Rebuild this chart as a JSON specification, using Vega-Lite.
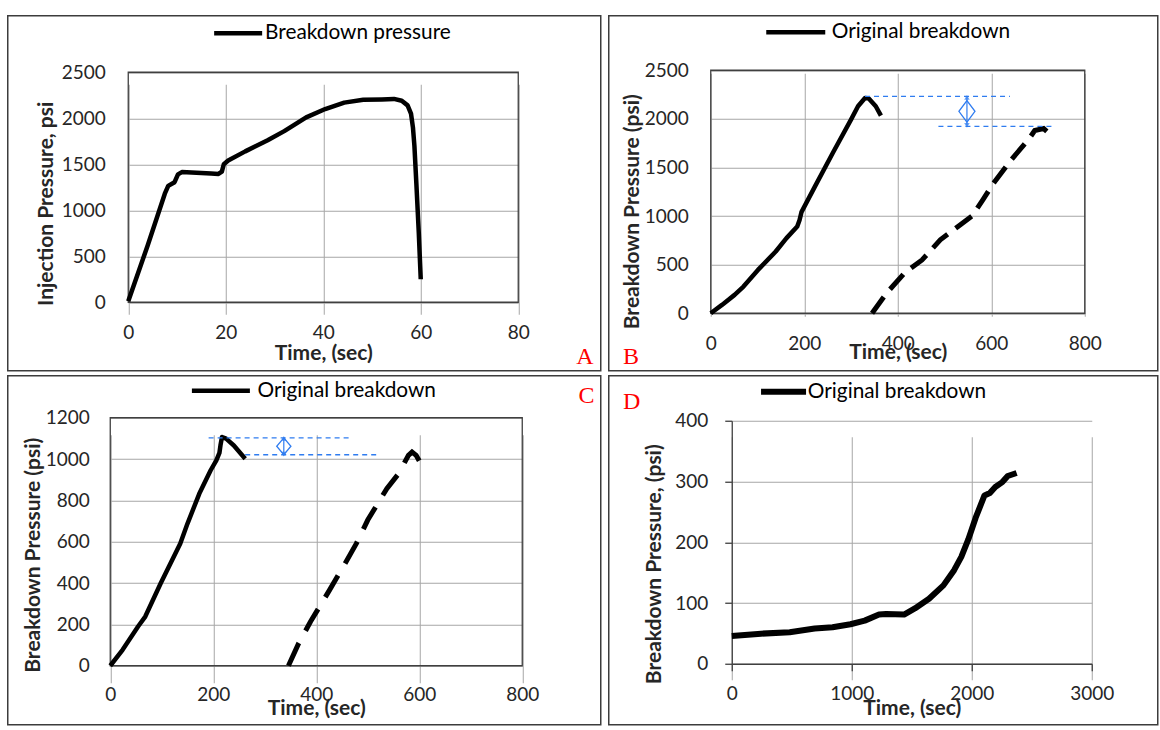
{
  "$schema": "https://vega.github.io/schema/vega-lite/v6.json",
  "background": "white",
  "padding": {"left": 6.75, "top": 14.75, "right": 0, "bottom": 0},
  "spacing": {"row": 3, "column": 6},
  "columns": 2,
  "datasets": {
    "one": [{}],
    "A": [
      {"t": 0, "p": 10}, {"t": 4, "p": 620}, {"t": 7.5, "p": 1180}, {"t": 8.2, "p": 1265}, {"t": 9.5, "p": 1305},
      {"t": 10.2, "p": 1390}, {"t": 11, "p": 1415}, {"t": 14, "p": 1408}, {"t": 17, "p": 1400}, {"t": 18.5, "p": 1395},
      {"t": 19.2, "p": 1420}, {"t": 19.6, "p": 1500}, {"t": 20.5, "p": 1540}, {"t": 24, "p": 1640}, {"t": 28.6, "p": 1760},
      {"t": 32, "p": 1860}, {"t": 36.5, "p": 2010}, {"t": 40.4, "p": 2100}, {"t": 44.3, "p": 2170}, {"t": 48.2, "p": 2200},
      {"t": 52, "p": 2205}, {"t": 54.5, "p": 2210}, {"t": 56.1, "p": 2190}, {"t": 57.3, "p": 2140}, {"t": 58, "p": 2050},
      {"t": 58.4, "p": 1900}, {"t": 58.7, "p": 1700}, {"t": 59.1, "p": 1290}, {"t": 59.6, "p": 750}, {"t": 60, "p": 250}
    ],
    "B_orig": [
      {"t": 0, "p": 0}, {"t": 24, "p": 86}, {"t": 51, "p": 189}, {"t": 70, "p": 275}, {"t": 101, "p": 446},
      {"t": 139, "p": 635}, {"t": 162, "p": 773}, {"t": 185, "p": 893}, {"t": 190, "p": 960}, {"t": 194, "p": 1040},
      {"t": 223, "p": 1305}, {"t": 261, "p": 1648}, {"t": 300, "p": 1992}, {"t": 315, "p": 2129}, {"t": 330, "p": 2215},
      {"t": 338, "p": 2210}, {"t": 353, "p": 2130}, {"t": 364, "p": 2033}
    ],
    "B_re": [
      {"t": 345, "p": 0}, {"t": 376, "p": 206}, {"t": 414, "p": 412}, {"t": 452, "p": 549}, {"t": 491, "p": 755},
      {"t": 529, "p": 893}, {"t": 559, "p": 1000}, {"t": 582, "p": 1167}, {"t": 605, "p": 1339}, {"t": 643, "p": 1580},
      {"t": 682, "p": 1803}, {"t": 693, "p": 1880}, {"t": 712, "p": 1900}, {"t": 731, "p": 1820}
    ],
    "B_lines": [
      {"t": 330, "t2": 640, "p": 2232},
      {"t": 487, "t2": 734, "p": 1923}
    ],
    "B_arrow": [{"t": 548, "p": 2222, "p2": 1932, "pm": 2077}],
    "C_orig": [
      {"t": 0, "p": 0}, {"t": 24, "p": 77}, {"t": 54, "p": 190}, {"t": 68, "p": 238}, {"t": 98, "p": 399},
      {"t": 136, "p": 592}, {"t": 150, "p": 688}, {"t": 173, "p": 833}, {"t": 195, "p": 946}, {"t": 206, "p": 994},
      {"t": 212, "p": 1030}, {"t": 214, "p": 1066}, {"t": 217, "p": 1107}, {"t": 225, "p": 1099}, {"t": 240, "p": 1066},
      {"t": 262, "p": 1002}
    ],
    "C_re": [
      {"t": 346, "p": 0}, {"t": 366, "p": 109}, {"t": 389, "p": 214}, {"t": 426, "p": 367}, {"t": 456, "p": 495},
      {"t": 478, "p": 592}, {"t": 500, "p": 705}, {"t": 537, "p": 857}, {"t": 560, "p": 930}, {"t": 579, "p": 1018},
      {"t": 586, "p": 1034}, {"t": 594, "p": 1018}, {"t": 603, "p": 978}
    ],
    "C_lines": [
      {"t": 191, "t2": 469, "p": 1103},
      {"t": 262, "t2": 521, "p": 1021}
    ],
    "C_arrow": [{"t": 337, "p": 1100, "p2": 1024, "pm": 1062}],
    "D": [
      {"t": 0, "p": 45.6}, {"t": 244, "p": 49.5}, {"t": 483, "p": 52}, {"t": 691, "p": 58}, {"t": 840, "p": 60},
      {"t": 989, "p": 65}, {"t": 1108, "p": 71}, {"t": 1227, "p": 81}, {"t": 1287, "p": 82}, {"t": 1436, "p": 81},
      {"t": 1526, "p": 91}, {"t": 1644, "p": 107}, {"t": 1764, "p": 129}, {"t": 1853, "p": 154}, {"t": 1913, "p": 176},
      {"t": 1972, "p": 205}, {"t": 2032, "p": 240}, {"t": 2106, "p": 277}, {"t": 2151, "p": 281}, {"t": 2196, "p": 291},
      {"t": 2255, "p": 299}, {"t": 2300, "p": 309}, {"t": 2374, "p": 314}
    ]
  },
  "concat": [
    {
      "width": 593, "height": 355,
      "title": {"text": "A", "orient": "bottom", "anchor": "end", "frame": "group", "align": "right", "baseline": "alphabetic", "offset": 0, "dx": -7.25, "dy": -7, "font": "Liberation Serif", "fontSize": 24, "fontWeight": "normal", "color": "#ff0000"},
      "layer": [
        {
          "data": {"name": "one"},
          "mark": {"type": "rect", "filled": false, "color": "#404040", "strokeWidth": 1.3},
          "encoding": {"x": {"datum": 0, "type": "quantitative"}, "x2": {"datum": 80}, "y": {"datum": 0, "type": "quantitative"}, "y2": {"datum": 2500}}
        },
        {
          "data": {"name": "A"},
          "mark": {"type": "line", "strokeWidth": 4.5, "strokeJoin": "round"},
          "encoding": {
            "x": {"field": "t", "type": "quantitative", "scale": {"domain": [0, 80], "range": [120.5, 510.5], "nice": false},
                  "axis": {"values": [0, 20, 40, 60, 80], "format": "d", "offset": -68.5, "title": "Time, (sec)", "labelPadding": 30, "labelBaseline": "middle", "titleX": 315.5, "titleY": 51, "titleBaseline": "middle", "titleAlign": "center"}},
            "y": {"field": "p", "type": "quantitative", "scale": {"domain": [0, 2500], "range": [286.5, 56.5], "nice": false},
                  "axis": {"values": [0, 500, 1000, 1500, 2000, 2500], "format": "d", "offset": -120.5, "title": "Injection Pressure, psi", "labelPadding": 23, "titleX": -82, "titleY": 187.5, "titleAngle": -90, "titleBaseline": "middle", "titleAlign": "center"}},
            "color": {"datum": "Breakdown pressure", "scale": {"range": ["black"]},
                      "legend": {"orient": "none", "legendX": 220, "legendY": 7, "title": null, "symbolType": "M-4,0H4", "symbolSize": 144, "symbolStrokeWidth": 4.5, "labelOffset": 16.5}}
          }
        }
      ]
    },
    {
      "width": 549, "height": 355,
      "title": {"text": "B", "orient": "bottom", "anchor": "start", "frame": "group", "align": "left", "baseline": "alphabetic", "offset": 0, "dx": 14.25, "dy": -7, "font": "Liberation Serif", "fontSize": 24, "fontWeight": "normal", "color": "#ff0000"},
      "layer": [
        {
          "data": {"name": "one"},
          "mark": {"type": "rect", "filled": false, "color": "#404040", "strokeWidth": 1.3},
          "encoding": {"x": {"datum": 0, "type": "quantitative"}, "x2": {"datum": 800}, "y": {"datum": 0, "type": "quantitative"}, "y2": {"datum": 2500}}
        },
        {
          "data": {"name": "B_orig"},
          "mark": {"type": "line", "strokeWidth": 4.5, "strokeJoin": "round"},
          "encoding": {
            "x": {"field": "t", "type": "quantitative", "scale": {"domain": [0, 800], "range": [102, 476], "nice": false},
                  "axis": {"values": [0, 200, 400, 600, 800], "format": "d", "offset": -57.5, "title": "Time, (sec)", "labelPadding": 30, "labelBaseline": "middle", "titleX": 289, "titleY": 39.5, "titleBaseline": "middle", "titleAlign": "center"}},
            "y": {"field": "p", "type": "quantitative", "scale": {"domain": [0, 2500], "range": [297.5, 54.5], "nice": false},
                  "axis": {"values": [0, 500, 1000, 1500, 2000, 2500], "format": "d", "offset": -102, "title": "Breakdown Pressure (psi)", "labelPadding": 22.5, "titleX": -78, "titleY": 195.5, "titleAngle": -90, "titleBaseline": "middle", "titleAlign": "center"}},
            "color": {"datum": "Original breakdown", "scale": {"range": ["black"]},
                      "legend": {"orient": "none", "legendX": 176.6, "legendY": 6, "title": null, "symbolType": "M-4,0H4", "symbolSize": 217.6, "symbolStrokeWidth": 4.5, "labelOffset": 25.6}}
          }
        },
        {
          "data": {"name": "B_re"},
          "mark": {"type": "line", "color": "black", "strokeWidth": 5, "strokeDash": [20, 10], "strokeCap": "butt"},
          "encoding": {"x": {"field": "t", "type": "quantitative"}, "y": {"field": "p", "type": "quantitative"}}
        },
        {
          "data": {"name": "B_lines"},
          "mark": {"type": "rule", "color": "#2f7cf0", "strokeWidth": 1.3, "strokeDash": [5, 4]},
          "encoding": {"x": {"field": "t", "type": "quantitative"}, "x2": {"field": "t2"}, "y": {"field": "p", "type": "quantitative"}}
        },
        {
          "data": {"name": "B_arrow"},
          "mark": {"type": "rule", "color": "#2f7cf0", "strokeWidth": 1.2},
          "encoding": {"x": {"field": "t", "type": "quantitative"}, "y": {"field": "p", "type": "quantitative"}, "y2": {"field": "p2"}}
        },
        {
          "data": {"name": "B_arrow"},
          "mark": {"type": "point", "shape": "triangle-up", "filled": true, "color": "#2f7cf0", "size": 30},
          "encoding": {"x": {"field": "t", "type": "quantitative"}, "y": {"field": "p", "type": "quantitative"}}
        },
        {
          "data": {"name": "B_arrow"},
          "mark": {"type": "point", "shape": "triangle-down", "filled": true, "color": "#2f7cf0", "size": 30},
          "encoding": {"x": {"field": "t", "type": "quantitative"}, "y": {"field": "p2", "type": "quantitative"}}
        },
        {
          "data": {"name": "B_arrow"},
          "mark": {"type": "point", "shape": "M0,-1L0.74,0L0,1L-0.74,0Z", "filled": false, "color": "#2f7cf0", "strokeWidth": 1.3, "size": 471, "opacity": 1},
          "encoding": {"x": {"field": "t", "type": "quantitative"}, "y": {"field": "pm", "type": "quantitative"}}
        }
      ]
    },
    {
      "width": 593, "height": 349,
      "title": {"text": "C", "orient": "bottom", "anchor": "end", "frame": "group", "align": "right", "baseline": "alphabetic", "offset": 0, "dx": -6.25, "dy": -322, "font": "Liberation Serif", "fontSize": 24, "fontWeight": "normal", "color": "#ff0000"},
      "layer": [
        {
          "data": {"name": "one"},
          "mark": {"type": "rect", "filled": false, "color": "#404040", "strokeWidth": 1.3},
          "encoding": {"x": {"datum": 0, "type": "quantitative"}, "x2": {"datum": 800}, "y": {"datum": 0, "type": "quantitative"}, "y2": {"datum": 1200}}
        },
        {
          "data": {"name": "C_orig"},
          "mark": {"type": "line", "strokeWidth": 4.5, "strokeJoin": "round"},
          "encoding": {
            "x": {"field": "t", "type": "quantitative", "scale": {"domain": [0, 800], "range": [102.5, 514.5], "nice": false},
                  "axis": {"values": [0, 200, 400, 600, 800], "format": "d", "offset": -59, "title": "Time, (sec)", "labelPadding": 29, "labelBaseline": "middle", "titleX": 308.5, "titleY": 43, "titleBaseline": "middle", "titleAlign": "center"}},
            "y": {"field": "p", "type": "quantitative", "scale": {"domain": [0, 1200], "range": [290, 42], "nice": false},
                  "axis": {"values": [0, 200, 400, 600, 800, 1000, 1200], "format": "d", "offset": -102.5, "title": "Breakdown Pressure (psi)", "labelPadding": 21, "titleX": -77, "titleY": 179, "titleAngle": -90, "titleBaseline": "middle", "titleAlign": "center"}},
            "color": {"datum": "Original breakdown", "scale": {"range": ["black"]},
                      "legend": {"orient": "none", "legendX": 202.75, "legendY": 4.5, "title": null, "symbolType": "M-4,0H4", "symbolSize": 210.25, "symbolStrokeWidth": 4.5, "labelOffset": 26.25}}
          }
        },
        {
          "data": {"name": "C_re"},
          "mark": {"type": "line", "color": "black", "strokeWidth": 5, "strokeDash": [25, 14], "strokeCap": "butt"},
          "encoding": {"x": {"field": "t", "type": "quantitative"}, "y": {"field": "p", "type": "quantitative"}}
        },
        {
          "data": {"name": "C_lines"},
          "mark": {"type": "rule", "color": "#2f7cf0", "strokeWidth": 1.3, "strokeDash": [5, 4]},
          "encoding": {"x": {"field": "t", "type": "quantitative"}, "x2": {"field": "t2"}, "y": {"field": "p", "type": "quantitative"}}
        },
        {
          "data": {"name": "C_arrow"},
          "mark": {"type": "rule", "color": "#2f7cf0", "strokeWidth": 1.2},
          "encoding": {"x": {"field": "t", "type": "quantitative"}, "y": {"field": "p", "type": "quantitative"}, "y2": {"field": "p2"}}
        },
        {
          "data": {"name": "C_arrow"},
          "mark": {"type": "point", "shape": "triangle-up", "filled": true, "color": "#2f7cf0", "size": 30},
          "encoding": {"x": {"field": "t", "type": "quantitative"}, "y": {"field": "p", "type": "quantitative"}}
        },
        {
          "data": {"name": "C_arrow"},
          "mark": {"type": "point", "shape": "triangle-down", "filled": true, "color": "#2f7cf0", "size": 30},
          "encoding": {"x": {"field": "t", "type": "quantitative"}, "y": {"field": "p2", "type": "quantitative"}}
        },
        {
          "data": {"name": "C_arrow"},
          "mark": {"type": "point", "shape": "M0,-1L0.85,0L0,1L-0.85,0Z", "filled": false, "color": "#2f7cf0", "strokeWidth": 1.3, "size": 279, "opacity": 1},
          "encoding": {"x": {"field": "t", "type": "quantitative"}, "y": {"field": "pm", "type": "quantitative"}}
        }
      ]
    },
    {
      "width": 549, "height": 349,
      "title": {"text": "D", "orient": "bottom", "anchor": "start", "frame": "group", "align": "left", "baseline": "alphabetic", "offset": 0, "dx": 14.25, "dy": -316, "font": "Liberation Serif", "fontSize": 24, "fontWeight": "normal", "color": "#ff0000"},
      "layer": [
        {
          "data": {"name": "D"},
          "mark": {"type": "line", "strokeWidth": 6, "strokeJoin": "round"},
          "encoding": {
            "x": {"field": "t", "type": "quantitative", "scale": {"domain": [0, 3000], "range": [123, 483], "nice": false},
                  "axis": {"values": [0, 1000, 2000, 3000], "format": "d", "offset": -61, "title": "Time, (sec)", "domain": true, "domainColor": "#404040", "domainWidth": 1.3, "ticks": true, "tickSize": 7, "tickColor": "#404040", "tickWidth": 1.3, "labelPadding": 23, "labelBaseline": "middle", "titleX": 303, "titleY": 45, "titleBaseline": "middle", "titleAlign": "center"}},
            "y": {"field": "p", "type": "quantitative", "scale": {"domain": [0, 400], "range": [288, 45], "nice": false},
                  "axis": {"values": [0, 100, 200, 300, 400], "format": "d", "offset": -123, "title": "Breakdown Pressure, (psi)", "domain": true, "domainColor": "#404040", "domainWidth": 1.3, "ticks": true, "tickSize": 7, "tickColor": "#404040", "tickWidth": 1.3, "labelPadding": 17, "titleX": -77, "titleY": 188, "titleAngle": -90, "titleBaseline": "middle", "titleAlign": "center"}},
            "color": {"datum": "Original breakdown", "scale": {"range": ["black"]},
                      "legend": {"orient": "none", "legendX": 164.4, "legendY": 5.5, "title": null, "symbolType": "M-4,0H4", "symbolSize": 126.6, "symbolStrokeWidth": 6, "labelOffset": 13.9}}
          }
        }
      ]
    }
  ],
  "resolve": {"scale": {"color": "independent"}, "legend": {"color": "independent"}},
  "config": {
    "font": "Lato",
    "view": {"stroke": "#3c3c3c", "strokeWidth": 1.5},
    "axis": {
      "grid": true, "gridColor": "#a6a6a6", "gridWidth": 1,
      "domain": false, "ticks": false, "tickSize": 0, "labelFlush": false,
      "labelFont": "Lato", "labelFontSize": 19, "labelColor": "#262626",
      "titleFont": "Lato", "titleFontSize": 21, "titleFontWeight": "bold", "titleColor": "#262626"
    },
    "legend": {"padding": 0, "offset": 0, "labelFont": "Lato", "labelFontSize": 20.8, "labelColor": "#000000", "labelLimit": 0, "symbolStrokeColor": "black"}
  }
}
